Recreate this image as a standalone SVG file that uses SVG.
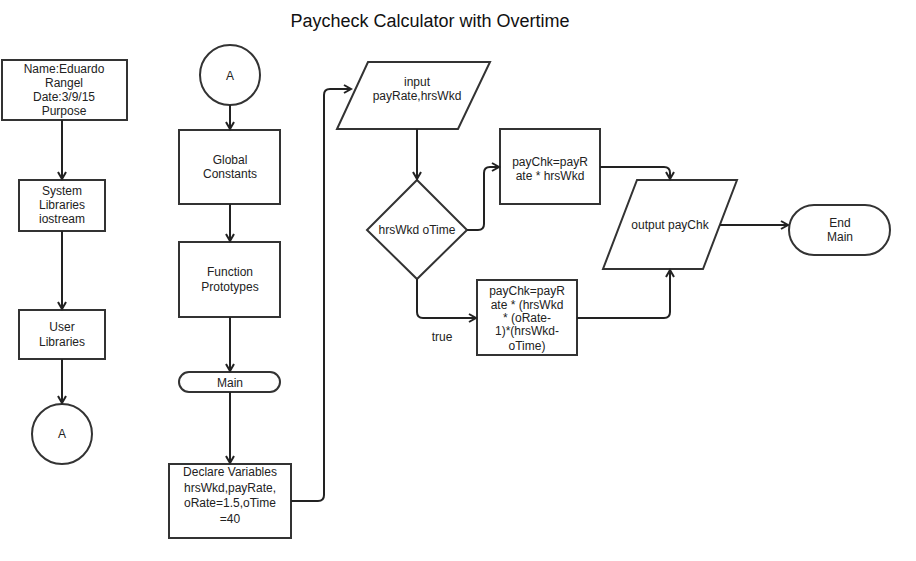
<svg xmlns="http://www.w3.org/2000/svg" width="916" height="561" viewBox="0 0 916 561">
<defs>
<marker id="arr" viewBox="0 0 10 10" refX="8" refY="5" markerWidth="10" markerHeight="10" markerUnits="userSpaceOnUse" orient="auto">
<path d="M1,1 L8,5 L1,9" fill="none" stroke="#222" stroke-width="2"/>
</marker>
<style>
.s{fill:#fff;stroke:#333;stroke-width:2}
.t{font-family:"Liberation Sans",Arial,sans-serif;font-size:12px;fill:#222;text-anchor:middle;dominant-baseline:central}
.c{fill:none;stroke:#222;stroke-width:2;marker-end:url(#arr)}
</style>
</defs>
<rect width="916" height="561" fill="#fff"/>
<text x="430" y="21" style="font-family:'Liberation Sans',Arial,sans-serif;font-size:18px;fill:#111;text-anchor:middle;dominant-baseline:central">Paycheck Calculator with Overtime</text>

<g id="name"><rect class="s" x="2" y="60" width="125" height="60"/>
<text class="t" x="64" y="69">Name:Eduardo</text><text class="t" x="64" y="83">Rangel</text><text class="t" x="64" y="97">Date:3/9/15</text><text class="t" x="64" y="111">Purpose</text></g>
<g id="syslib"><rect class="s" x="19" y="180" width="86" height="51"/>
<text class="t" x="62" y="191">System</text><text class="t" x="62" y="205">Libraries</text><text class="t" x="62" y="219">iostream</text></g>
<g id="userlib"><rect class="s" x="19" y="310" width="86" height="49"/>
<text class="t" x="62" y="327">User</text><text class="t" x="62" y="342">Libraries</text></g>
<g id="connA1"><circle class="s" cx="62" cy="434" r="30"/><text class="t" x="62" y="434">A</text></g>

<g id="connA2"><circle class="s" cx="230" cy="75" r="30"/><text class="t" x="230" y="76">A</text></g>
<g id="global"><rect class="s" x="179" y="130" width="101" height="74"/>
<text class="t" x="230" y="160">Global</text><text class="t" x="230" y="174">Constants</text></g>
<g id="proto"><rect class="s" x="179" y="242" width="101" height="75"/>
<text class="t" x="230" y="272">Function</text><text class="t" x="230" y="287">Prototypes</text></g>
<g id="main"><rect class="s" x="179" y="372" width="101" height="20" rx="10"/>
<text class="t" x="230" y="383">Main</text></g>
<g id="declare"><rect class="s" x="169" y="464" width="122" height="74"/>
<text class="t" x="230" y="472">Declare Variables</text><text class="t" x="230" y="488">hrsWkd,payRate,</text><text class="t" x="230" y="503">oRate=1.5,oTime</text><text class="t" x="230" y="519">=40</text></g>

<g id="input"><path class="s" d="M368,62 H490 L458,129 H337 Z"/>
<text class="t" x="417" y="82">input</text><text class="t" x="417" y="96">payRate,hrsWkd</text></g>
<g id="decision"><path class="s" d="M417,180 L467,230 L417,279 L367,230 Z"/>
<text class="t" x="417" y="230">hrsWkd oTime</text></g>
<g id="calc1"><rect class="s" x="500" y="129" width="100" height="75"/>
<text class="t" x="550" y="162">payChk=payR</text><text class="t" x="550" y="176">ate * hrsWkd</text></g>
<g id="calc2"><rect class="s" x="477" y="280" width="100" height="75"/>
<text class="t" x="527" y="291">payChk=payR</text><text class="t" x="527" y="305">ate * (hrsWkd</text><text class="t" x="527" y="318">* (oRate-</text><text class="t" x="527" y="331">1)*(hrsWkd-</text><text class="t" x="527" y="346">oTime)</text></g>
<g id="output"><path class="s" d="M637,180 H737 L703,269 H603 Z"/>
<text class="t" x="670" y="225">output payChk</text></g>
<g id="end"><rect class="s" x="789" y="205" width="101" height="50" rx="25"/>
<text class="t" x="840" y="223">End</text><text class="t" x="840" y="237">Main</text></g>

<g id="connectors">
<path class="c" d="M62,120 V179"/>
<path class="c" d="M62,231 V309"/>
<path class="c" d="M62,359 V403"/>
<path class="c" d="M230,105 V129"/>
<path class="c" d="M230,204 V241"/>
<path class="c" d="M230,317 V371"/>
<path class="c" d="M230,392 V463"/>
<path class="c" d="M291,501 H318 Q324,501 324,495 V95 Q324,89 330,89 H351"/>
<path class="c" d="M417,129 V179"/>
<path class="c" d="M467,230 H478 Q484,230 484,224 V173 Q484,167 490,167 H499"/>
<path class="c" d="M417,279 V312 Q417,318 423,318 H476"/>
<path class="c" d="M600,167 H664 Q670,167 670,173 V179"/>
<path class="c" d="M577,318 H664 Q670,318 670,312 V270"/>
<path class="c" d="M720,225 H788"/>
<text class="t" x="442" y="337">true</text>
</g>
</svg>
